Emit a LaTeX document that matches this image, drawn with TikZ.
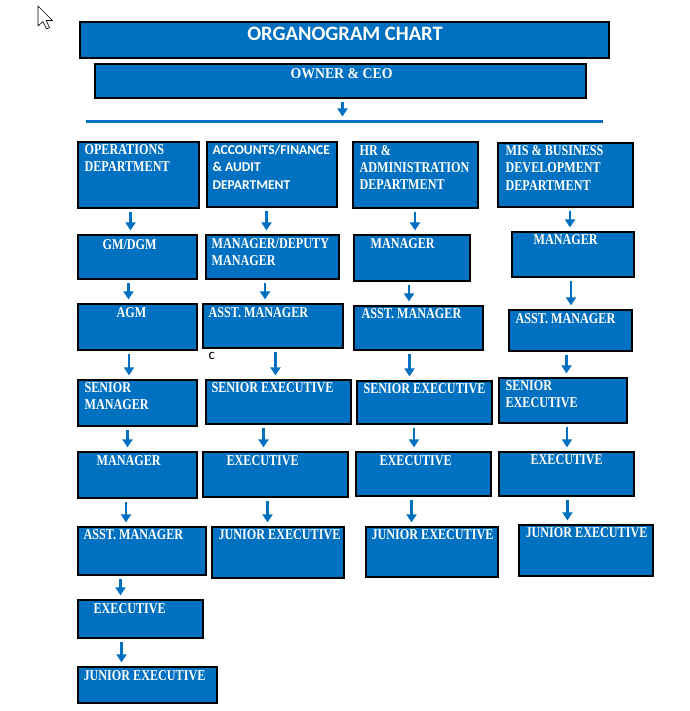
\documentclass[tikz,border=0pt]{standalone}
\usepackage{fontspec}
\newfontfamily\boxfont[FakeStretch=0.81]{Liberation Serif}
\newfontfamily\ownerfont[FakeStretch=0.92]{Liberation Serif}
\newfontfamily\calfont{Carlito}
\usetikzlibrary{arrows.meta}
\definecolor{orgblue}{RGB}{0,112,192}

\begin{document}
\begin{tikzpicture}[x=1pt,y=-1pt,>={Triangle[width=10pt,length=8pt]},
	orgbox/.style={draw=black,line width=1.2pt,fill=orgblue,inner sep=0pt},
	boxtext/.style={anchor=north west,inner sep=0pt,align=left,text=white,
		font=\boxfont\bfseries\fontsize{15}{17.3}\selectfont},
	arr/.style={->,draw=orgblue,line width=2.6pt,shorten <=3pt,shorten >=4pt}]

\useasboundingbox (0,0) rectangle (689,711);

% mouse pointer
\draw[fill=white,line width=0.6pt,line join=round] (38,6)--(38,26)--(43,21.5)--(46.5,29)--(49.5,27.7)--(46.2,20.5)--(52.5,20.5)--cycle;

\node[orgbox,line width=1.5pt,minimum width=529pt,minimum height=36pt] (title) at (344.5,40) {};
\node[anchor=north,inner sep=0pt,text=white,font=\calfont\bfseries\fontsize{20.5}{24}\selectfont]
	(title-txt) at ([shift={(0.5,6)}]title.north) {ORGANOGRAM CHART};

\node[orgbox,minimum width=491pt,minimum height=34pt] (owner) at (340.5,81) {};
\node[anchor=north,inner sep=0pt,text=white,font=\ownerfont\bfseries\fontsize{15}{17}\selectfont]
	(owner-txt) at ([shift={(1,5)}]owner.north) {OWNER \& CEO};

\coordinate (rulel) at (86,121.5);
\coordinate (ruler) at (603,121.5);
\draw[draw=orgblue,line width=3pt] (rulel)--(ruler);
\draw[arr,shorten >=5pt] ([xshift=2pt]owner.south)--([xshift=2pt]owner.south |- rulel);

\node[orgbox,minimum width=130pt,minimum height=65pt] (accdept) at (272,174.5) {};
\node[boxtext,font=\calfont\bfseries\fontsize{13.5}{17.8}\selectfont]
	(accdept-txt) at ([shift={(6,3)}]accdept.north west) {ACCOUNTS/FINANCE\\\& AUDIT\\DEPARTMENT};

\foreach \nm/\xa/\ya/\xb/\yb/\dx/\dy/\txt in {
	opsdept/78/142/199/208/7/3/{OPERATIONS\\DEPARTMENT},
	opsgm/78/235/197/279/25/5/{GM/DGM},
	opsagm/78/304/197/350/39/4/{AGM},
	opssm/78/380/197/426/7/3/{SENIOR\\MANAGER},
	opsmgr/78/452/197/498/19/4/{MANAGER},
	opsasst/78/527/206/575/6/2.5/{ASST. MANAGER},
	opsexec/78/600/203/638/16/3.5/{EXECUTIVE},
	opsje/78/667/217/703/6/3.5/{JUNIOR EXECUTIVE},
	accmgr/206/235/339/279/6/4/{MANAGER/DEPUTY\\MANAGER},
	accasst/203/304/343/348/6/4/{ASST. MANAGER},
	accse/206/380/351/424/6/3/{SENIOR EXECUTIVE},
	accexec/203/452/348/497/24/4/{EXECUTIVE},
	accje/212/527/344/578/7/3/{JUNIOR EXECUTIVE},
	hrdept/353/142/478/208/7/3.5/{HR \&\\ADMINISTRATION\\DEPARTMENT},
	hrmgr/354/235/470/281/17/4/{MANAGER},
	hrasst/354/306/483/350/8/3/{ASST. MANAGER},
	hrse/357/381/492/424/7/2.5/{SENIOR EXECUTIVE},
	hrexec/356/452/491/496/24/4/{EXECUTIVE},
	hrje/366/527/498/577/6/2.5/{JUNIOR EXECUTIVE},
	misdept/498/143/633/207/8/3/{MIS \& BUSINESS\\DEVELOPMENT\\DEPARTMENT},
	mismgr/512/232/634/277/22/3/{MANAGER},
	misasst/509/310/632/351/7/4/{ASST. MANAGER},
	misse/499/378/627/423/7/3/{SENIOR\\EXECUTIVE},
	misexec/499/452/634/496/32/2.5/{EXECUTIVE},
	misje/519/525/653/576/7/2.5/{JUNIOR EXECUTIVE}}{
	\node[orgbox,minimum width={(\xb-\xa)*1pt},minimum height={(\yb-\ya)*1pt}] (\nm) at ({(\xa+\xb)/2},{(\ya+\yb)/2}) {};
	\node[boxtext] (\nm-txt) at ([shift={(\dx,\dy)}]\nm.north west) {\txt};
}

\foreach \a/\b/\dx in {opsdept/opsgm/-8,opsgm/opsagm/-9,opsagm/opssm/-8.5,opssm/opsmgr/-10,
	opsmgr/opsasst/-11.5,opsasst/opsexec/-21.5,opsexec/opsje/-19,
	accdept/accmgr/-5.5,accmgr/accasst/-7.5,accasst/accse/2.5,accse/accexec/-15,accexec/accje/-8,
	hrdept/hrmgr/-0.5,hrmgr/hrasst/-3,hrasst/hrse/-9,hrse/hrexec/-10.5,hrexec/hrje/-12,
	misdept/mismgr/4.5,mismgr/misasst/-2,misasst/misse/-4,misse/misexec/4,misexec/misje/1}{
	\draw[arr] ([xshift=\dx pt]\a.south)--([xshift=\dx pt]\a.south |- \b.north);
}

\node[anchor=north west,inner sep=0pt,font=\calfont\fontsize{15}{17}\selectfont] (stray) at (208.5,352.5) {c};

\end{tikzpicture}
\end{document}
